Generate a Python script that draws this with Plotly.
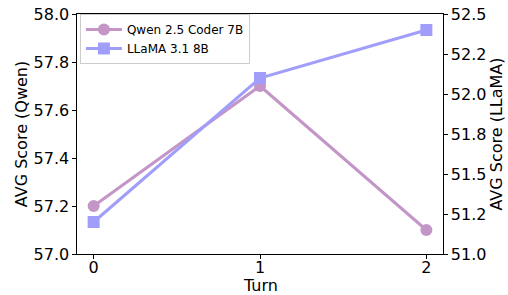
import plotly.graph_objects as go

turns = [0, 1, 2]
qwen_scores = [57.2, 57.7, 57.1]
llama_scores = [51.2, 52.1, 52.4]
qwen_name = "Qwen 2.5 Coder 7B"
llama_name = "LLaMA 3.1 8B"
left_ticks = [57.0, 57.2, 57.4, 57.6, 57.8, 58.0]
right_ticks = [51.0, 51.25, 51.5, 51.75, 52.0, 52.25, 52.5]
right_tick_text = ["51.0", "51.2", "51.5", "51.8", "52.0", "52.2", "52.5"]

qc = "rgb(196,150,200)"
lc = "rgb(160,158,250)"

fig = go.Figure()
fig.add_trace(go.Scatter(x=turns, y=qwen_scores, name=qwen_name, mode="lines+markers",
                         line=dict(color=qc, width=3), marker=dict(symbol="circle", size=12, color=qc),
                         yaxis="y"))
fig.add_trace(go.Scatter(x=turns, y=llama_scores, name=llama_name, mode="lines+markers",
                         line=dict(color=lc, width=3), marker=dict(symbol="square", size=12, color=lc),
                         yaxis="y2"))

font = dict(family="DejaVu Sans", size=16, color="black")
axis_common = dict(showgrid=False, zeroline=False, showline=True, linecolor="black", linewidth=1.2,
                   ticks="outside", ticklen=3.5, tickcolor="black", automargin=False,
                   ticklabeloverflow="allow", tickfont=font)
fig.update_layout(
    width=508, height=295,
    margin=dict(l=77, r=65, t=14, b=41, autoexpand=False),
    paper_bgcolor="white", plot_bgcolor="white",
    font=font,
    xaxis=dict(range=[-0.1, 2.1], tickvals=turns, ticktext=[str(t) for t in turns], mirror=True,
               ticklabelstandoff=-5, **axis_common),
    yaxis=dict(range=[57.0, 58.0], tickvals=left_ticks, ticktext=[f"{v:.1f}" for v in left_ticks],
               title=dict(text="AVG Score (Qwen)", standoff=1, font=font), **axis_common),
    yaxis2=dict(range=[51.0, 52.5], tickvals=right_ticks, ticktext=right_tick_text,
                overlaying="y", side="right",
                title=dict(text="AVG Score (LLaMA)", standoff=5, font=font), **axis_common),
    legend=dict(x=0.008, y=1.0, xanchor="left", yanchor="top",
                bgcolor="rgba(255,255,255,0.8)", bordercolor="#cccccc", borderwidth=1,
                font=dict(family="DejaVu Sans", size=12, color="black"),
                tracegroupgap=0, itemwidth=36),
    showlegend=True,
    annotations=[dict(text="Turn", xref="paper", yref="paper", x=0.5, y=0,
                      xanchor="center", yanchor="top", yshift=-21, borderpad=0,
                      showarrow=False, font=font)],
)
fig.write_html("out.html", post_script="document.body.style.margin='0';",
               config={"displayModeBar": False})
